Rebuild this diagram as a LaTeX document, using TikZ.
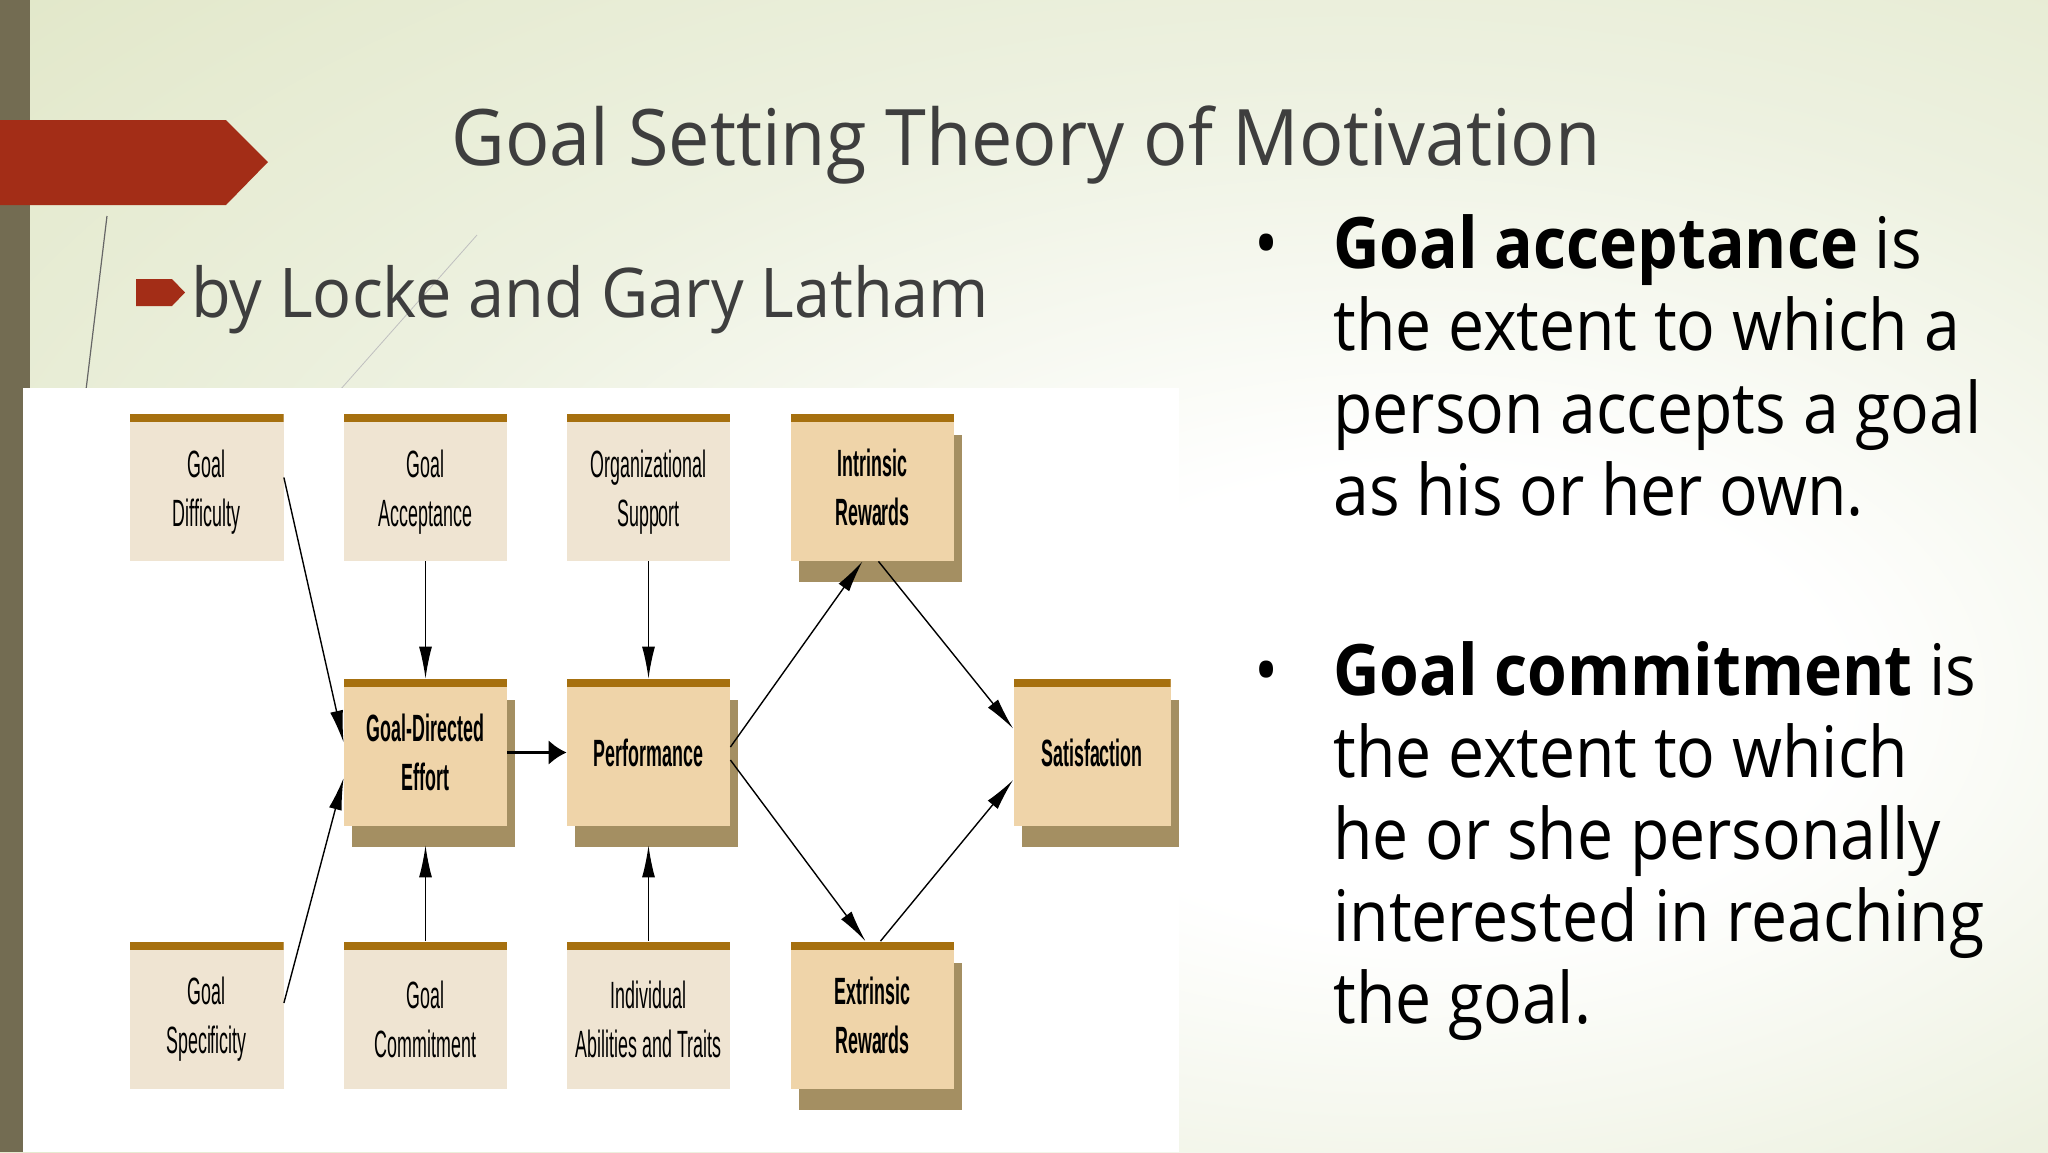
\documentclass[tikz,border=0pt]{standalone}
\usepackage{fontspec}
\setmainfont{Open Sans}
\newfontfamily\titlefont[FakeStretch=0.945]{Open Sans}
\newfontfamily\bodyfont[FakeStretch=0.905]{Open Sans}
\newfontfamily\narrowfont[FakeStretch=0.47]{Liberation Sans}
\usetikzlibrary{arrows.meta,shadows,calc}
\definecolor{bggreen}{HTML}{E0E6C6}
\definecolor{bgmid}{HTML}{EDF1E0}
\definecolor{leftbar}{HTML}{736C52}
\definecolor{redc}{HTML}{A32D17}
\definecolor{lightfill}{HTML}{EFE4D2}
\definecolor{darkfill}{HTML}{EFD4A9}
\definecolor{barcol}{HTML}{A6700F}
\definecolor{shadowcol}{HTML}{A48F62}
\definecolor{titlegray}{HTML}{3E3E3E}
\pgfdeclareradialshading{bgshade}{\pgfpoint{11bp}{-6bp}}{color(0bp)=(white); color(10bp)=(white); color(26bp)=(bgmid); color(45bp)=(bggreen); color(100bp)=(bggreen)}
\newcommand{\lsup}{\rule{0pt}{18pt}}
\tikzset{
  boxbase/.style={rectangle, inner sep=0pt, align=center,
    minimum width=81.5pt, minimum height=73.5pt,
    font=\narrowfont\fontsize{19}{24.5}\selectfont,
    path picture={\fill[barcol] (path picture bounding box.north west) rectangle ([yshift=-4pt]path picture bounding box.north east);}},
  lightbox/.style={boxbase, fill=lightfill},
  darkbox/.style={boxbase, fill=darkfill, font=\narrowfont\bfseries\fontsize{19}{24.5}\selectfont,
    drop shadow={shadow xshift=4pt, shadow yshift=-10.5pt, opacity=1, fill=shadowcol}},
  arr/.style={-{Latex[length=16pt,width=6.5pt]}, line width=0.7pt, black},
  thickarr/.style={-{Latex[length=9pt,width=12.5pt]}, line width=1.6pt, black},
  bodytext/.style={anchor=base west, inner sep=0pt, font=\bodyfont\fontsize{35.5}{41}\selectfont, text=black},
  bullettext/.style={anchor=base, inner sep=0pt, font=\bodyfont\fontsize{35.5}{41}\selectfont, text=black}
}
\begin{document}
\begin{tikzpicture}[x=0.5pt,y=-0.5pt]
\useasboundingbox (0,0) rectangle (2048,1152);
\shade[shading=bgshade] (0,0) rectangle (2048,1152);
% left bar
\fill[leftbar] (0,0) rectangle (30,1152);
% red banner
\fill[redc] (0,120) -- (226,120) -- (268,162) -- (226,205) -- (0,205) -- cycle;
% thin decorative lines
\draw[line width=0.6pt, color=black!60] (107,216) -- (86,390);
\draw[line width=0.4pt, color=black!25] (477,235) -- (340,390);
% title
\node[anchor=base, inner sep=0pt, text=titlegray, font=\titlefont\fontsize{39}{47}\selectfont] (title) at (1026,165) {Goal Setting Theory of Motivation};
% subtitle
\fill[redc] (136,279) -- (172,279) -- (185,292.5) -- (172,306) -- (136,306) -- cycle;
\node[anchor=base west, inner sep=0pt, text=titlegray, font=\titlefont\fontsize{34.3}{41}\selectfont] (subtitle) at (191,317) {by Locke and Gary Latham};
% white panel
\fill[white] (23,388) rectangle (1179,1152);
% boxes
\node[lightbox, minimum width=77pt] (gd) at (206.5,487.5) {\lsup Goal\\Difficulty};
\node[lightbox] (ga) at (425.5,487.5) {\lsup Goal\\Acceptance};
\node[lightbox] (os) at (648.5,487.5) {\lsup Organizational\\Support};
\node[darkbox] (ir) at (872.5,487.5) {Intrinsic\\Rewards};
\node[darkbox] (gde) at (425.5,752.5) {Goal-Directed\\Effort};
\node[darkbox] (perf) at (648.5,752.5) {Performance};
\node[darkbox, minimum width=78.5pt] (sat) at (1092,752.5) {Satisfaction};
\node[lightbox, minimum width=77pt] (gs) at (206.5,1015) {\lsup Goal\\Specificity};
\node[lightbox] (gc) at (425.5,1015) {\lsup Goal\\Commitment};
\node[lightbox] (ia) at (648.5,1015) {\lsup Individual\\Abilities and Traits};
\node[darkbox] (er) at (872.5,1015) {Extrinsic\\Rewards};
% arrows
\draw[arr] ([yshift=5pt]gd.east) -- ([yshift=5pt]gde.west);
\draw[arr] ([yshift=6pt]gs.east) -- ([yshift=-12.75pt]gde.west);
\draw[arr] (ga.south) -- (gde.north);
\draw[arr] (os.south) -- (perf.north);
\draw[arr] (gc.north) -- ([yshift=-9.5pt]gde.south);
\draw[arr] (ia.north) -- ([yshift=-9.5pt]perf.south);
\draw[thickarr] (gde.east) -- (perf.west);
\draw[arr] ([yshift=2.75pt]perf.east) -- ([xshift=-5pt]ir.south);
\draw[arr] ([xshift=3pt]ir.south) -- ([yshift=12pt]sat.west);
\draw[arr] ([yshift=-3.75pt]perf.east) -- ([xshift=-3.5pt]er.north);
\draw[arr] ([xshift=4pt]er.north) -- ([yshift=-13.75pt]sat.west);
% right text
\node[bullettext] (b1) at (1267,268) {•};
\node[bodytext] (t1) at (1333,268) {\textbf{Goal acceptance} is};
\node[bodytext] (t2) at (1333,350) {the extent to which a};
\node[bodytext] (t3) at (1333,433) {person accepts a goal};
\node[bodytext] (t4) at (1333,515) {as his or her own.};
\node[bullettext] (b2) at (1267,695) {•};
\node[bodytext] (t5) at (1333,695) {\textbf{Goal commitment} is};
\node[bodytext] (t6) at (1333,777) {the extent to which};
\node[bodytext] (t7) at (1333,859) {he or she personally};
\node[bodytext] (t8) at (1333,941) {interested in reaching};
\node[bodytext] (t9) at (1333,1023) {the goal.};
\end{tikzpicture}
\end{document}
